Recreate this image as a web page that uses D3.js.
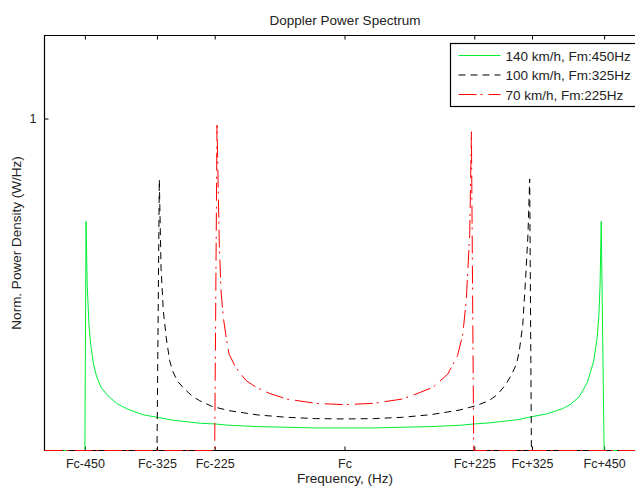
<!DOCTYPE html>
<html>
<head>
<meta charset="utf-8">
<script src="https://cdn.jsdelivr.net/npm/d3@7"></script>
<style>
  body { margin: 0; background: #fff; }
  text { font-family: "Liberation Sans", Arial, sans-serif; fill: #222; }
</style>
</head>
<body>
<script>
// frequency offsets from Fc (Hz) and normalised PSD
const freq140 = [-520, -450, -448, -446, -443, -440, -435, -430, -422, -410, -395, -378, -350, -325, -300, -250, -225, -200, -150, -100, -50, 0,
                 50, 100, 150, 200, 225, 250, 300, 325, 350, 378, 391, 407, 421, 432, 438, 441, 443, 445, 450, 520];
const psd140  = [0, 0, 0.69, 0.50, 0.38, 0.32, 0.26, 0.225, 0.19, 0.165, 0.142, 0.126, 0.108, 0.100, 0.092, 0.082, 0.080, 0.076, 0.072, 0.070, 0.068, 0.068,
                 0.068, 0.070, 0.072, 0.076, 0.080, 0.083, 0.093, 0.102, 0.110, 0.126, 0.138, 0.162, 0.205, 0.27, 0.34, 0.41, 0.50, 0.69, 0, 0];

const freq100 = [-520, -325, -321, -318, -314, -309, -303, -298, -290, -280, -265, -251, -230, -200, -150, -100, -50, 0,
                 50, 100, 150, 200, 230, 250, 265, 280, 290, 298, 303, 309, 314, 318, 321, 324, 520];
const psd100  = [0, 0, 0.816, 0.55, 0.42, 0.34, 0.27, 0.24, 0.21, 0.19, 0.165, 0.15, 0.133, 0.12, 0.107, 0.100, 0.096, 0.095,
                 0.096, 0.100, 0.108, 0.122, 0.136, 0.15, 0.168, 0.20, 0.23, 0.26, 0.30, 0.38, 0.52, 0.65, 0.818, 0, 0];

const freq70  = [-520, -225, -221, -219, -217, -214, -210, -205, -200, -190, -182, -170, -153, -130, -100, -50, 0,
                 50, 100, 118, 153, 179, 196, 205, 211, 217, 220, 224, 520];
const psd70   = [0, 0, 0.98, 0.80, 0.62, 0.48, 0.40, 0.34, 0.29, 0.255, 0.235, 0.21, 0.19, 0.172, 0.155, 0.142, 0.138,
                 0.142, 0.155, 0.166, 0.19, 0.23, 0.286, 0.35, 0.45, 0.65, 0.96, 0, 0];

const seriesNames = ["140 km/h, Fm:450Hz", "100 km/h, Fm:325Hz", "70 km/h, Fm:225Hz"];
const tickFreqs = [-450, -325, -225, 0, 225, 325, 450];
const tickLabels = ["Fc-450", "Fc-325", "Fc-225", "Fc", "Fc+225", "Fc+325", "Fc+450"];
const yTicks = [1];

const W = 635, H = 486;
const mLeft = 44.5, mTop = 35.5, mBottom = 450.5, mRight = 644.5;

const svg = d3.select("body").append("svg")
    .attr("width", W).attr("height", H);

const x = d3.scaleLinear().domain([-520, 520]).range([mLeft, mRight]);
const y = d3.scaleLinear().domain([0, 1.25]).range([mBottom, mTop]);

const styles = [
  { color: "#00ee33", dash: null },
  { color: "#000", dash: "7,5" },
  { color: "#ff0000", dash: "18,4,2,6" }
];

const series = [
  d3.zip(freq140, psd140),
  d3.zip(freq100, psd100),
  d3.zip(freq70, psd70)
];

const line = d3.line()
    .x(d => x(d[0]))
    .y(d => y(d[1]));

// axes first (MATLAB style, ticks inward, box), data drawn on top
const xAxis = svg.append("g")
    .attr("transform", `translate(0,${mBottom})`)
    .call(d3.axisBottom(x).tickValues(tickFreqs)
        .tickFormat((d, i) => tickLabels[i]).tickSizeInner(-4).tickSizeOuter(0).tickPadding(9));
xAxis.select(".domain").remove();

const xTop = svg.append("g")
    .attr("transform", `translate(0,${mTop})`)
    .call(d3.axisTop(x).tickValues(tickFreqs).tickFormat("").tickSizeInner(-4).tickSizeOuter(0));
xTop.select(".domain").remove();

const yAxis = svg.append("g")
    .attr("transform", `translate(${mLeft},0)`)
    .call(d3.axisLeft(y).tickValues(yTicks).tickFormat(d3.format("d"))
        .tickSizeInner(-4).tickSizeOuter(0).tickPadding(8));
yAxis.select(".domain").remove();

svg.selectAll(".tick text")
    .attr("font-size", 12.5)
    .attr("font-family", "Liberation Sans, Arial, sans-serif")
    .attr("fill", "#222");
svg.selectAll(".tick line").attr("stroke", "#000");

svg.append("path")
    .attr("d", `M${mRight},${mTop}H${mLeft}V${mBottom}H${mRight}`)
    .attr("fill", "none").attr("stroke", "#000").attr("stroke-width", 1.2);

series.forEach((s, i) => {
  svg.append("path")
      .attr("d", line(s))
      .attr("fill", "none")
      .attr("stroke", styles[i].color)
      .attr("stroke-width", 1)
      .attr("stroke-dasharray", styles[i].dash);
});

// labels
svg.append("text")
    .attr("x", 345).attr("y", 25)
    .attr("text-anchor", "middle").attr("font-size", 13.5)
    .text("Doppler Power Spectrum");

svg.append("text")
    .attr("x", 345).attr("y", 483)
    .attr("text-anchor", "middle").attr("font-size", 13.5)
    .text("Frequency, (Hz)");

svg.append("text")
    .attr("transform", `translate(21,${(mTop + mBottom) / 2}) rotate(-90)`)
    .attr("text-anchor", "middle").attr("font-size", 13.5)
    .text("Norm. Power Density (W/Hz)");

// legend
const lg = svg.append("g").attr("transform", "translate(450.5,43.5)");
lg.append("rect")
    .attr("width", 200).attr("height", 63)
    .attr("fill", "#fff").attr("stroke", "#000").attr("stroke-width", 1.2);

seriesNames.forEach((name, i) => {
  const ly = 12 + i * 19.5;
  lg.append("line")
      .attr("x1", 8).attr("x2", 50).attr("y1", ly).attr("y2", ly)
      .attr("stroke", styles[i].color)
      .attr("stroke-dasharray", styles[i].dash);
  lg.append("text")
      .attr("x", 55).attr("y", ly + 5)
      .attr("font-size", 13.5)
      .text(name);
});
</script>
</body>
</html>
